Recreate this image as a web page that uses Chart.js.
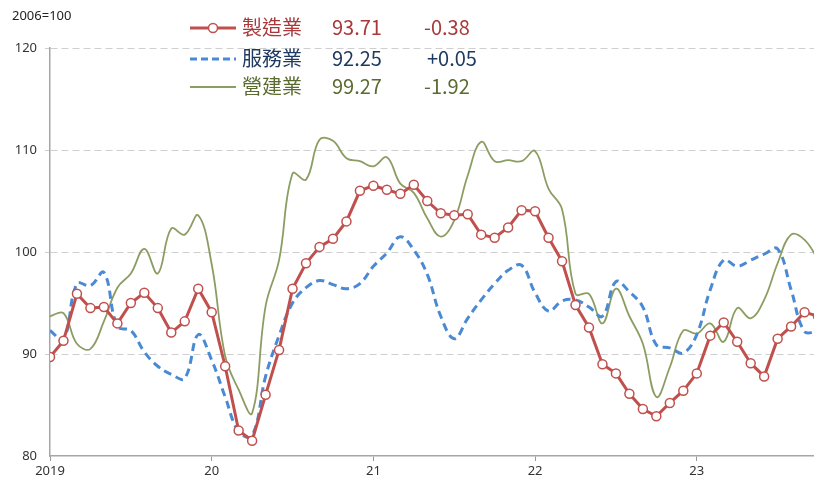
<!DOCTYPE html>
<html>
<head>
<meta charset="utf-8">
<script src="https://cdn.jsdelivr.net/npm/chart.js@4"></script>
<style>
  body { margin: 0; background: #fff; }
  #wrap { position: relative; width: 814px; height: 485px; overflow: hidden; }
  #unit { position: absolute; left: 12px; top: 6px; font: 13px "Noto Sans", sans-serif; color: #222; }
  .row { position: absolute; left: 190px; height: 28px; font: 20px "Noto Sans CJK TC", sans-serif; white-space: nowrap; }
  .row svg { position: absolute; left: 0; top: 4px; }
  .row span { position: absolute; top: -2px; }
  .lab { left: 52px; }
  .val { left: 142px; }
  .chg { left: 234px; }
</style>
</head>
<body>
<div id="wrap">
  <canvas id="chart" width="820" height="485"></canvas>
  <div id="unit">2006=100</div>
  <div class="row" style="top:14px;color:#a8383a">
    <svg width="48" height="20"><line x1="0" y1="10" x2="46" y2="10" stroke="#c0504d" stroke-width="3"/><circle cx="23" cy="10" r="4.5" fill="#fff" stroke="#c0504d" stroke-width="1.5"/></svg>
    <span class="lab">製造業</span><span class="val">93.71</span><span class="chg">-0.38</span>
  </div>
  <div class="row" style="top:45px;color:#1f3a60">
    <svg width="48" height="20"><line x1="0" y1="10" x2="46" y2="10" stroke="#4a8ad4" stroke-width="3" stroke-dasharray="7,4"/></svg>
    <span class="lab">服務業</span><span class="val">92.25</span><span class="chg" style="left:237px">+0.05</span>
  </div>
  <div class="row" style="top:73px;color:#5b6b30">
    <svg width="48" height="20"><line x1="0" y1="10" x2="46" y2="10" stroke="#8c9d63" stroke-width="2"/></svg>
    <span class="lab">營建業</span><span class="val">99.27</span><span class="chg">-1.92</span>
  </div>
</div>
<script>
// monthly, Jan 2019 .. Oct 2023
const manufacturing = [
  89.7, 91.3, 95.9, 94.5, 94.6, 93.0, 95.0, 96.0, 94.5, 92.1, 93.2, 96.4,
  94.1, 88.8, 82.5, 81.5, 86.0, 90.4, 96.4, 98.9, 100.5, 101.3, 103.0, 106.0,
  106.5, 106.1, 105.7, 106.6, 105.0, 103.8, 103.6, 103.7, 101.7, 101.4, 102.4, 104.1,
  104.0, 101.4, 99.1, 94.8, 92.6, 89.0, 88.1, 86.1, 84.6, 83.9, 85.2, 86.4,
  88.1, 91.8, 93.1, 91.2, 89.1, 87.8, 91.5, 92.7, 94.09, 93.71
];
const services = [
  92.3, 91.4, 96.9, 96.7, 98.0, 92.7, 92.3, 90.2, 88.8, 88.0, 87.6, 91.9,
  89.4, 85.8, 82.4, 82.0, 87.8, 91.8, 95.0, 96.5, 97.2, 96.8, 96.4, 96.9,
  98.6, 99.9, 101.5, 100.2, 97.8, 93.7, 91.5, 93.5, 95.3, 96.9, 98.2, 98.7,
  96.0, 94.2, 95.2, 95.3, 94.6, 93.7, 97.1, 96.1, 94.6, 90.9, 90.6, 90.1,
  91.9, 96.3, 99.2, 98.6, 99.2, 99.8, 100.3, 96.3, 92.20, 92.25
];
const construction = [
  93.7, 94.0, 91.0, 90.5, 93.2, 96.5, 97.9, 100.3, 97.9, 102.3, 101.7, 103.6,
  98.8, 89.8, 86.5, 84.2, 94.7, 99.2, 107.7, 107.1, 111.0, 110.9, 109.2, 108.9,
  108.4, 109.3, 106.7, 105.8, 103.3, 101.5, 103.1, 107.5, 110.8, 108.9, 109.0, 108.9,
  109.9, 106.2, 104.2, 95.9, 95.9, 93.0, 96.4, 93.7, 91.0, 85.8, 88.7, 92.3,
  92.0, 93.0, 91.2, 94.5, 93.5, 95.3, 98.9, 101.7, 101.19, 99.27
];
const yearTicks = [0, 12, 24, 36, 48];
const yearLabels = ['2019', '20', '21', '22', '23'];
const yTicks = [80, 90, 100, 110, 120];

const toXY = arr => arr.map((v, i) => ({ x: i, y: v }));

const ctx = document.getElementById('chart').getContext('2d');
new Chart(ctx, {
  type: 'line',
  data: {
    datasets: [{
      label: '製造業',
      data: toXY(manufacturing),
      borderColor: '#c0504d',
      borderWidth: 3,
      tension: 0,
      pointRadius: 4.5,
      pointBorderWidth: 1.5,
      pointBackgroundColor: '#fff',
      pointBorderColor: '#c0504d'
    }, {
      label: '服務業',
      data: toXY(services),
      borderColor: '#4a8ad4',
      borderWidth: 3,
      borderDash: [8, 5],
      tension: 0.4,
      pointRadius: 0
    }, {
      label: '營建業',
      data: toXY(construction),
      borderColor: '#8c9d63',
      borderWidth: 1.8,
      tension: 0.4,
      pointRadius: 0
    }]
  },
  options: {
    responsive: false,
    animation: false,
    layout: { padding: { top: 48, right: 0, left: 0, bottom: 0 } },
    plugins: { legend: { display: false }, tooltip: { enabled: false } },
    scales: {
      x: {
        type: 'linear',
        min: 0,
        max: 56.7,
        afterBuildTicks: s => { s.ticks = yearTicks.map(v => ({ value: v })); },
        afterFit: s => { s.height = 29; },
        ticks: {
          autoSkip: false,
          maxRotation: 0,
          padding: 2,
          color: '#333',
          font: { size: 13, family: 'Noto Sans' },
          callback: v => yearLabels[yearTicks.indexOf(v)]
        },
        grid: { drawOnChartArea: false, drawTicks: true, tickLength: 5, color: '#999' },
        border: { display: true, color: '#a6a6a6', width: 1.5 }
      },
      y: {
        min: 80,
        max: 120,
        afterBuildTicks: s => { s.ticks = yTicks.map(v => ({ value: v })); },
        afterFit: s => { s.width = 50; },
        ticks: {
          padding: 8,
          color: '#333',
          font: { size: 13, family: 'Noto Sans' }
        },
        grid: {
          tickLength: 5,
          color: c => c.tick && c.tick.value === 80 ? 'rgba(0,0,0,0)' : '#cfcfcf',
          lineWidth: 1
        },
        border: { display: true, color: '#a6a6a6', width: 1.5, dash: [7, 4] }
      }
    }
  }
});
</script>
</body>
</html>
